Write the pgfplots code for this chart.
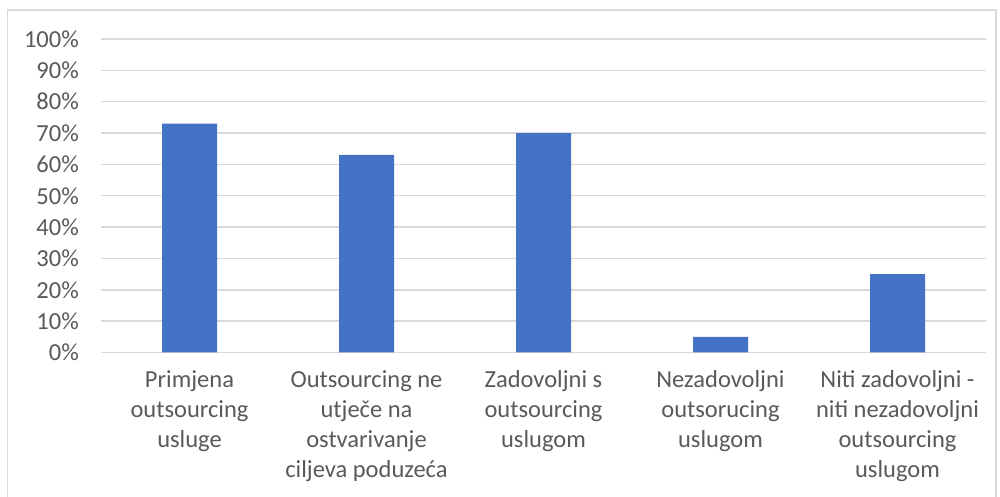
\documentclass[border=0pt]{standalone}
\usepackage{pgfplots}
\pgfplotsset{compat=1.18}
\usepackage{fontspec}
\setmainfont{Carlito}
\definecolor{barblue}{HTML}{4472C4}
\definecolor{gridgray}{HTML}{D9D9D9}
\definecolor{txtgray}{HTML}{595959}
\begin{document}
\begin{tikzpicture}[x=1pt,y=1pt]
\useasboundingbox (0,0) rectangle (1000,497);
\draw[gridgray, line width=1.2pt] (7.5,-20) rectangle (996,487);
\begin{axis}[
  at={(101pt,144.5pt)}, anchor=south west,
  scale only axis, width=885pt, height=313.5pt,
  xmin=-0.5, xmax=4.5, ymin=0, ymax=100,
  axis line style={draw=none},
  major tick length=0pt,
  ytick={0,10,...,100},
  yticklabels={0\%,10\%,20\%,30\%,40\%,50\%,60\%,70\%,80\%,90\%,100\%},
  ymajorgrids, grid style={gridgray, line width=1.5pt},
  xtick=data,
  xticklabels={{Primjena\\outsourcing\\usluge},{Outsourcing ne\\utječe na\\ostvarivanje\\ciljeva poduzeća},{Zadovoljni s\\outsourcing\\uslugom},{Nezadovoljni\\outsorucing\\uslugom},{Niti zadovoljni -\\niti nezadovoljni\\outsourcing\\uslugom}},
  tick label style={font=\fontsize{24.5}{30}\selectfont, text=txtgray},
  yticklabel style={anchor=east, inner sep=0pt, xshift=-22pt},
  xticklabel style={align=center, anchor=north, inner sep=0pt, yshift=-18pt},
  ybar, bar width=55pt,
]
\addplot[fill=barblue, draw=none] coordinates {(0,73) (1,63) (2,70) (3,5) (4,25)};
\end{axis}
\end{tikzpicture}
\end{document}
